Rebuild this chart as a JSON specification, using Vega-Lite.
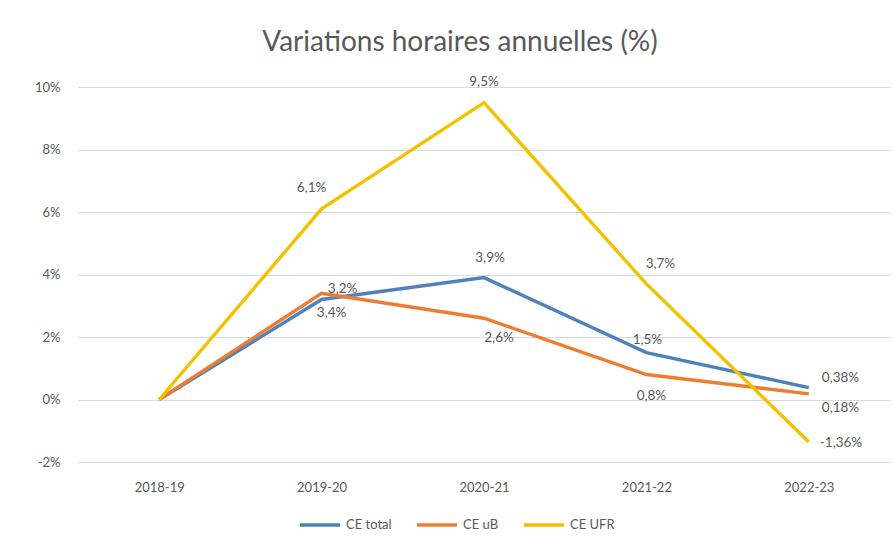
{
  "$schema": "https://vega.github.io/schema/vega-lite/v6.json",
  "width": 812,
  "height": 375,
  "autosize": {"type": "none"},
  "padding": {"left": 78, "top": 87, "right": 4, "bottom": 91},
  "background": "white",
  "title": {
    "text": "Variations horaires annuelles (%)",
    "font": "Lato",
    "fontSize": 28,
    "fontWeight": "normal",
    "color": "#595959",
    "anchor": "middle",
    "dx": -24,
    "offset": 18
  },
  "data": {
    "values": [
      {"year": "2018-19", "series": "CE total", "value": 0},
      {"year": "2019-20", "series": "CE total", "value": 0.032},
      {"year": "2020-21", "series": "CE total", "value": 0.039},
      {"year": "2021-22", "series": "CE total", "value": 0.015},
      {"year": "2022-23", "series": "CE total", "value": 0.0038},
      {"year": "2018-19", "series": "CE uB", "value": 0},
      {"year": "2019-20", "series": "CE uB", "value": 0.034},
      {"year": "2020-21", "series": "CE uB", "value": 0.026},
      {"year": "2021-22", "series": "CE uB", "value": 0.008},
      {"year": "2022-23", "series": "CE uB", "value": 0.0018},
      {"year": "2018-19", "series": "CE UFR", "value": 0},
      {"year": "2019-20", "series": "CE UFR", "value": 0.061},
      {"year": "2020-21", "series": "CE UFR", "value": 0.095},
      {"year": "2021-22", "series": "CE UFR", "value": 0.037},
      {"year": "2022-23", "series": "CE UFR", "value": -0.0136}
    ]
  },
  "encoding": {
    "x": {
      "field": "year",
      "type": "ordinal",
      "scale": {"type": "point", "padding": 0.5},
      "axis": {
        "title": null,
        "labelAngle": 0,
        "domain": false,
        "ticks": false,
        "labelPadding": 19,
        "labelFont": "Lato",
        "labelFontSize": 13,
        "labelColor": "#595959",
        "grid": false
      }
    },
    "y": {
      "field": "value",
      "type": "quantitative",
      "scale": {"domain": [-0.02, 0.1], "nice": false, "zero": false},
      "axis": {
        "title": null,
        "values": [-0.02, 0, 0.02, 0.04, 0.06, 0.08, 0.1],
        "format": ".0%",
        "domain": false,
        "ticks": false,
        "labelPadding": 18,
        "labelFont": "Lato",
        "labelFontSize": 13,
        "labelColor": "#595959",
        "grid": true,
        "gridColor": "#d9d9d9",
        "gridWidth": 1
      }
    }
  },
  "layer": [
    {
      "mark": {"type": "line", "strokeWidth": 3.4},
      "encoding": {
        "color": {
          "field": "series",
          "type": "nominal",
          "scale": {"domain": ["CE total", "CE uB", "CE UFR"], "range": ["#4F81BD", "#ED7D31", "#F2C200"]},
          "legend": {
            "title": null,
            "orient": "none",
            "direction": "horizontal",
            "legendX": 220,
            "legendY": 416,
            "symbolType": "stroke",
            "symbolStrokeWidth": 3.4,
            "symbolSize": 1600,
            "labelFont": "Lato",
            "labelFontSize": 13,
            "labelColor": "#595959",
            "labelOffset": 4,
            "columnPadding": 18,
            "padding": 0
          }
        }
      }
    },
    {
      "transform": [{"filter": "datum.series === 'CE total' && datum.year === '2019-20'"}],
      "mark": {"type": "text", "font": "Lato", "fontSize": 13.5, "color": "#595959", "dx": 21, "dy": -11},
      "encoding": {"text": {"field": "value", "type": "quantitative", "format": "~%"}}
    },
    {
      "transform": [{"filter": "datum.series === 'CE total' && datum.year === '2020-21'"}],
      "mark": {"type": "text", "font": "Lato", "fontSize": 13.5, "color": "#595959", "dx": 6, "dy": -20},
      "encoding": {"text": {"field": "value", "type": "quantitative", "format": "~%"}}
    },
    {
      "transform": [{"filter": "datum.series === 'CE total' && datum.year === '2021-22'"}],
      "mark": {"type": "text", "font": "Lato", "fontSize": 13.5, "color": "#595959", "dx": 1, "dy": -13},
      "encoding": {"text": {"field": "value", "type": "quantitative", "format": "~%"}}
    },
    {
      "transform": [{"filter": "datum.series === 'CE total' && datum.year === '2022-23'"}],
      "mark": {"type": "text", "font": "Lato", "fontSize": 13.5, "color": "#595959", "align": "left", "dx": 13, "dy": -10},
      "encoding": {"text": {"field": "value", "type": "quantitative", "format": "~%"}}
    },
    {
      "transform": [{"filter": "datum.series === 'CE uB' && datum.year === '2019-20'"}],
      "mark": {"type": "text", "font": "Lato", "fontSize": 13.5, "color": "#595959", "dx": 10, "dy": 20},
      "encoding": {"text": {"field": "value", "type": "quantitative", "format": "~%"}}
    },
    {
      "transform": [{"filter": "datum.series === 'CE uB' && datum.year === '2020-21'"}],
      "mark": {"type": "text", "font": "Lato", "fontSize": 13.5, "color": "#595959", "dx": 15, "dy": 20},
      "encoding": {"text": {"field": "value", "type": "quantitative", "format": "~%"}}
    },
    {
      "transform": [{"filter": "datum.series === 'CE uB' && datum.year === '2021-22'"}],
      "mark": {"type": "text", "font": "Lato", "fontSize": 13.5, "color": "#595959", "dx": 5, "dy": 21},
      "encoding": {"text": {"field": "value", "type": "quantitative", "format": "~%"}}
    },
    {
      "transform": [{"filter": "datum.series === 'CE uB' && datum.year === '2022-23'"}],
      "mark": {"type": "text", "font": "Lato", "fontSize": 13.5, "color": "#595959", "align": "left", "dx": 13, "dy": 14},
      "encoding": {"text": {"field": "value", "type": "quantitative", "format": "~%"}}
    },
    {
      "transform": [{"filter": "datum.series === 'CE UFR' && datum.year === '2019-20'"}],
      "mark": {"type": "text", "font": "Lato", "fontSize": 13.5, "color": "#595959", "dx": -10, "dy": -21},
      "encoding": {"text": {"field": "value", "type": "quantitative", "format": "~%"}}
    },
    {
      "transform": [{"filter": "datum.series === 'CE UFR' && datum.year === '2020-21'"}],
      "mark": {"type": "text", "font": "Lato", "fontSize": 13.5, "color": "#595959", "dx": 0, "dy": -21},
      "encoding": {"text": {"field": "value", "type": "quantitative", "format": "~%"}}
    },
    {
      "transform": [{"filter": "datum.series === 'CE UFR' && datum.year === '2021-22'"}],
      "mark": {"type": "text", "font": "Lato", "fontSize": 13.5, "color": "#595959", "dx": 14, "dy": -20},
      "encoding": {"text": {"field": "value", "type": "quantitative", "format": "~%"}}
    },
    {
      "transform": [{"filter": "datum.series === 'CE UFR' && datum.year === '2022-23'"}],
      "mark": {"type": "text", "font": "Lato", "fontSize": 13.5, "color": "#595959", "align": "left", "dx": 11, "dy": 1},
      "encoding": {"text": {"field": "value", "type": "quantitative", "format": "~%"}}
    }
  ],
  "config": {
    "view": {"stroke": null},
    "locale": {
      "number": {
        "decimal": ",",
        "thousands": "\u00a0",
        "grouping": [3],
        "currency": ["", "\u00a0€"],
        "minus": "-"
      }
    }
  }
}
